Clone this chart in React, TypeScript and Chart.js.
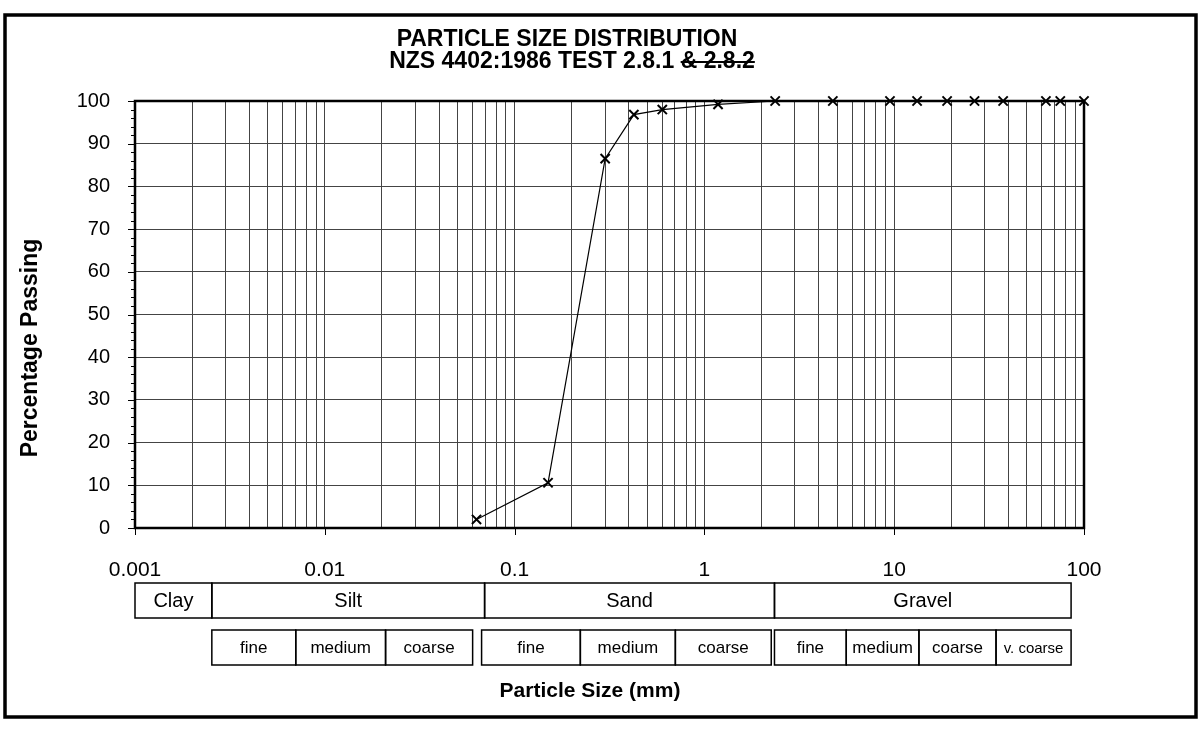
import React, { useEffect, useRef } from 'react';
import { Chart, registerables } from 'chart.js';

Chart.register(...registerables);

const FONT = "'Liberation Sans', Arial, sans-serif";

// Sieve sizes (mm) and percentage passing
const SIEVE_SIZES = [0.063, 0.15, 0.3, 0.425, 0.6, 1.18, 2.36, 4.75, 9.5, 13.2, 19, 26.5, 37.5, 63, 75, 100];
const PERCENT_PASSING = [2, 10.6, 86.5, 96.8, 98, 99.2, 100, 100, 100, 100, 100, 100, 100, 100, 100, 100];

// Axis ticks
const X_DECADES = [0.001, 0.01, 0.1, 1, 10, 100];
const X_TICK_LABELS = ['0.001', '0.01', '0.1', '1', '10', '100'];
const Y_TICKS = [0, 10, 20, 30, 40, 50, 60, 70, 80, 90, 100];

// Soil classification bands (mm)
const MAIN_CLASS_LABELS = ['Clay', 'Silt', 'Sand', 'Gravel'];
const MAIN_CLASS_BOUNDS = [0.001, 0.00254, 0.0695, 2.34, 85.5];
const SILT_SUB_LABELS = ['fine', 'medium', 'coarse'];
const SILT_SUB_BOUNDS = [0.00254, 0.00703, 0.0209, 0.0601];
const SAND_SUB_LABELS = ['fine', 'medium', 'coarse'];
const SAND_SUB_BOUNDS = [0.067, 0.222, 0.703, 2.25];
const GRAVEL_SUB_LABELS = ['fine', 'medium', 'coarse', 'v. coarse'];
const GRAVEL_SUB_BOUNDS = [2.34, 5.59, 13.5, 34.4, 85.5];

const TITLE_LINE_1 = 'PARTICLE SIZE DISTRIBUTION';
const TITLE_LINE_2_MAIN = 'NZS 4402:1986 TEST 2.8.1 ';
const TITLE_LINE_2_STRUCK = '& 2.8.2';
const X_TITLE = 'Particle Size (mm)';
const Y_TITLE = 'Percentage Passing';

const decorPlugin = {
  id: 'decor',
  beforeDatasetsDraw(chart: any) {
    const { ctx, chartArea: a, scales } = chart;
    const x = scales.x;
    const y = scales.y;
    ctx.save();
    ctx.strokeStyle = '#000';
    // plot frame
    ctx.lineWidth = 2.5;
    ctx.strokeRect(a.left, a.top, a.right - a.left, a.bottom - a.top);
    // y minor/major ticks
    ctx.lineWidth = 1;
    for (let v = 0; v <= 100; v += 2) {
      const py = Math.round(y.getPixelForValue(v)) + 0.5;
      const len = v % 10 === 0 ? 7 : 4;
      ctx.beginPath();
      ctx.moveTo(a.left - len, py);
      ctx.lineTo(a.left, py);
      ctx.stroke();
    }
    // x decade ticks
    X_DECADES.forEach((d) => {
      const px = Math.round(x.getPixelForValue(d)) + 0.5;
      ctx.beginPath();
      ctx.moveTo(px, a.bottom);
      ctx.lineTo(px, a.bottom + 7);
      ctx.stroke();
    });
    ctx.restore();
  },
  afterDraw(chart: any) {
    const { ctx, scales } = chart;
    const x = scales.x;
    ctx.save();
    ctx.fillStyle = '#000';
    ctx.strokeStyle = '#000';

    // outer frame
    ctx.lineWidth = 3.5;
    ctx.strokeRect(5, 15, 1191, 702);

    // title
    ctx.font = `bold 23px ${FONT}`;
    ctx.textAlign = 'center';
    ctx.textBaseline = 'middle';
    ctx.fillText(TITLE_LINE_1, 567, 40);
    const full = TITLE_LINE_2_MAIN + TITLE_LINE_2_STRUCK;
    const wFull = ctx.measureText(full).width;
    const wMain = ctx.measureText(TITLE_LINE_2_MAIN).width;
    const start = 572 - wFull / 2;
    ctx.textAlign = 'left';
    ctx.fillText(full, start, 62);
    ctx.lineWidth = 2;
    ctx.beginPath();
    ctx.moveTo(start + wMain, 62);
    ctx.lineTo(start + wFull, 62);
    ctx.stroke();

    // axis titles
    ctx.textAlign = 'center';
    ctx.font = `bold 21px ${FONT}`;
    ctx.fillText(X_TITLE, 590, 691);
    ctx.save();
    ctx.translate(31, 348);
    ctx.rotate(-Math.PI / 2);
    ctx.font = `bold 23px ${FONT}`;
    ctx.fillText(Y_TITLE, 0, 0);
    ctx.restore();

    // classification boxes
    const drawRow = (bounds: number[], labels: string[], top: number, bottom: number, size: (l: string) => number) => {
      ctx.lineWidth = 1.5;
      for (let i = 0; i < labels.length; i++) {
        const x0 = x.getPixelForValue(bounds[i]);
        const x1 = x.getPixelForValue(bounds[i + 1]);
        ctx.strokeRect(x0, top, x1 - x0, bottom - top);
        ctx.font = `${size(labels[i])}px ${FONT}`;
        ctx.fillText(labels[i], (x0 + x1) / 2, (top + bottom) / 2 + 1);
      }
    };
    drawRow(MAIN_CLASS_BOUNDS, MAIN_CLASS_LABELS, 583, 618, () => 20);
    const sub = (l: string) => (l === 'v. coarse' ? 15 : 17);
    drawRow(SILT_SUB_BOUNDS, SILT_SUB_LABELS, 630, 665, sub);
    drawRow(SAND_SUB_BOUNDS, SAND_SUB_LABELS, 630, 665, sub);
    drawRow(GRAVEL_SUB_BOUNDS, GRAVEL_SUB_LABELS, 630, 665, sub);
    ctx.restore();
  },
};

export default function App() {
  const ref = useRef<HTMLCanvasElement>(null);
  useEffect(() => {
    if (!ref.current) return;
    Chart.defaults.font.family = FONT;
    const xTicks: number[] = [];
    for (let i = 0; i < X_DECADES.length - 1; i++) {
      for (let m = 1; m <= 9; m++) xTicks.push(Number((m * X_DECADES[i]).toPrecision(3)));
    }
    xTicks.push(X_DECADES[X_DECADES.length - 1]);
    const chart = new Chart(ref.current, {
      type: 'line',
      data: {
        datasets: [
          {
            data: SIEVE_SIZES.map((s, i) => ({ x: s, y: PERCENT_PASSING[i] })),
            borderColor: '#000',
            borderWidth: 1.2,
            pointStyle: 'crossRot',
            pointRadius: 6.5,
            pointBorderWidth: 2,
            pointBorderColor: '#000',
            pointBackgroundColor: '#000',
            tension: 0,
            fill: false,
            clip: false,
          } as any,
        ],
      },
      options: {
        responsive: false,
        animation: false,
        layout: { padding: { top: 101, left: 0, right: 116, bottom: 0 } },
        plugins: {
          legend: { display: false },
          title: { display: false },
          tooltip: { enabled: false },
        },
        scales: {
          x: {
            type: 'logarithmic',
            min: 0.001,
            max: 100,
            afterBuildTicks: (s: any) => {
              s.ticks = xTicks.map((v) => ({ value: v }));
            },
            afterFit: (s: any) => {
              s.height = 202;
            },
            ticks: {
              autoSkip: false,
              maxRotation: 0,
              minRotation: 0,
              padding: 30,
              color: '#000',
              font: { family: FONT, size: 21 },
              callback: (v: any) => {
                const idx = X_DECADES.findIndex((d) => Math.abs(d - Number(v)) / d < 1e-6);
                return idx >= 0 ? X_TICK_LABELS[idx] : '';
              },
            },
            grid: { color: '#444', lineWidth: 1, drawTicks: false },
            border: { display: false },
          },
          y: {
            min: 0,
            max: 100,
            afterBuildTicks: (s: any) => {
              s.ticks = Y_TICKS.map((v) => ({ value: v }));
            },
            afterFit: (s: any) => {
              s.width = 135;
            },
            ticks: {
              padding: 25,
              color: '#000',
              font: { family: FONT, size: 20 },
            },
            grid: { color: '#444', lineWidth: 1, drawTicks: false },
            border: { display: false },
          },
        },
      } as any,
      plugins: [decorPlugin],
    });
    return () => chart.destroy();
  }, []);
  return (
    <div style={{ position: 'absolute', left: 0, top: 0, width: 1200, height: 730, background: '#fff' }}>
      <canvas ref={ref} width={1200} height={730} />
    </div>
  );
}
